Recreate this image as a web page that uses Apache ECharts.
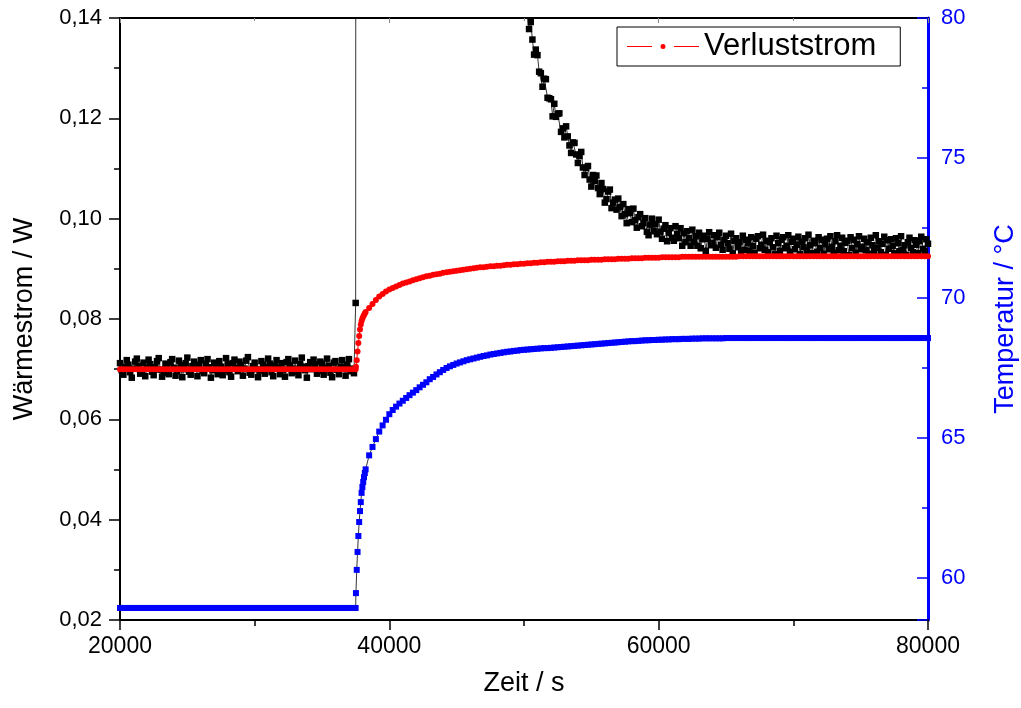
<!DOCTYPE html>
<html>
<head>
<meta charset="utf-8">
<script src="https://cdn.jsdelivr.net/npm/echarts@6/dist/echarts.min.js"></script>
<style>
html,body{margin:0;padding:0;background:#fff;overflow:hidden;}
#chart{width:1021px;height:708px;}
</style>
</head>
<body>
<div id="chart"></div>
<script>
// ---------- DATA ----------
const X_TICKS = [20000, 40000, 60000, 80000];
const Y_LEFT_TICKS = [0.02, 0.04, 0.06, 0.08, 0.10, 0.12, 0.14];
const Y_RIGHT_TICKS = [60, 65, 70, 75, 80];

// Wärmestrom (black) part 1: t = 20000 + 125*i (last value = spike at 37500)
const waermeBefore = [
  0.0712,0.0698,0.0689,0.0705,0.0718,0.0709,0.0694,0.0683,0.0701,0.0715,
  0.0721,0.0707,0.0691,0.0697,0.0713,0.0686,0.0702,0.0719,0.0710,0.0695,
  0.0688,0.0704,0.0716,0.0722,0.0699,0.0685,0.0693,0.0711,0.0706,0.0690,
  0.0714,0.0720,0.0703,0.0687,0.0696,0.0717,0.0708,0.0684,0.0700,0.0712,
  0.0723,0.0695,0.0689,0.0706,0.0715,0.0701,0.0686,0.0709,0.0718,0.0697,
  0.0692,0.0711,0.0720,0.0704,0.0683,0.0698,0.0713,0.0707,0.0690,0.0716,
  0.0705,0.0688,0.0699,0.0722,0.0710,0.0694,0.0685,0.0712,0.0719,0.0702,
  0.0696,0.0715,0.0708,0.0687,0.0701,0.0717,0.0724,0.0693,0.0689,0.0706,
  0.0713,0.0700,0.0684,0.0697,0.0716,0.0709,0.0691,0.0704,0.0721,0.0711,
  0.0694,0.0686,0.0707,0.0718,0.0703,0.0690,0.0712,0.0699,0.0685,0.0714,
  0.0720,0.0708,0.0692,0.0701,0.0717,0.0695,0.0688,0.0710,0.0723,0.0705,
  0.0698,0.0683,0.0706,0.0714,0.0700,0.0719,0.0709,0.0691,0.0697,0.0715,
  0.0711,0.0689,0.0702,0.0721,0.0707,0.0693,0.0684,0.0713,0.0716,0.0699,
  0.0690,0.0705,0.0718,0.0703,0.0687,0.0709,0.0720,0.0696,0.0701,0.0692,
  0.0832
];
// part 2: off the top of the chart after the heater step
const waermeHighTimes = [37625,38000,39000,40000,41000,42000,43000,44000,45000,46000,47000,48000,49000,50000,50125];
const waermeHigh      = [1.296,1.18,0.93,0.74,0.595,0.48,0.393,0.324,0.272,0.231,0.200,0.176,0.157,0.143,0.1415];
// part 3: t = 50250 + 125*k
const waermeAfter = [
  0.1410,0.1378,0.1392,0.1357,0.1327,0.1337,0.1326,0.1293,0.1290,0.1263,
  0.1279,0.1278,0.1241,0.1240,0.1238,0.1204,0.1229,0.1203,0.1209,0.1210,
  0.1173,0.1180,0.1162,0.1184,0.1164,0.1146,0.1131,0.1152,0.1151,0.1128,
  0.1111,0.1125,0.1133,0.1102,0.1087,0.1101,0.1105,0.1078,0.1064,0.1087,
  0.1075,0.1086,0.1061,0.1049,0.1071,0.1059,0.1032,0.1039,0.1054,0.1058,
  0.1021,0.1032,0.1038,0.1018,0.1040,0.1023,0.1005,0.1029,0.1009,0.0991,
  0.1019,0.1011,0.0993,0.1020,0.0997,0.0982,0.1003,0.1009,0.0985,0.0991,
  0.1001,0.0974,0.0967,0.0988,0.1000,0.0975,0.0989,0.0969,0.0998,0.0974,
  0.0960,0.0980,0.0987,0.0955,0.0972,0.0981,0.0962,0.0956,0.0985,0.0969,
  0.0961,0.0981,0.0946,0.0971,0.0953,0.0975,0.0961,0.0946,0.0978,0.0954,
  0.0965,0.0946,0.0972,0.0941,0.0959,0.0966,0.0936,0.0960,0.0973,0.0947,
  0.0952,0.0967,0.0942,0.0963,0.0972,0.0948,0.0938,0.0958,0.0966,0.0951,
  0.0940,0.0970,0.0931,0.0956,0.0961,0.0943,0.0953,0.0933,0.0966,0.0938,
  0.0958,0.0951,0.0936,0.0963,0.0946,0.0932,0.0960,0.0965,0.0941,0.0948,
  0.0968,0.0938,0.0956,0.0933,0.0953,0.0961,0.0943,0.0929,0.0966,0.0951,
  0.0936,0.0958,0.0963,0.0941,0.0946,0.0967,0.0934,0.0954,0.0960,0.0939,
  0.0948,0.0964,0.0929,0.0954,0.0943,0.0961,0.0936,0.0968,0.0947,0.0931,
  0.0956,0.0951,0.0934,0.0963,0.0941,0.0958,0.0930,0.0949,0.0960,0.0939,
  0.0965,0.0944,0.0932,0.0955,0.0967,0.0937,0.0946,0.0962,0.0935,0.0952,
  0.0956,0.0927,0.0963,0.0941,0.0958,0.0932,0.0949,0.0965,0.0939,0.0944,
  0.0960,0.0937,0.0953,0.0930,0.0962,0.0947,0.0935,0.0967,0.0942,0.0955,
  0.0933,0.0950,0.0964,0.0928,0.0957,0.0940,0.0959,0.0946,0.0931,0.0961,
  0.0951,0.0935,0.0965,0.0937,0.0947,0.0928,0.0953,0.0962,0.0942,0.0933,
  0.0957,0.0948,0.0931,0.0955,0.0964,0.0940,0.0936,0.0959,0.0950
];

// Verluststrom / Temperatur times: every 250 s before, fine during the jump, every 250 s after
const TEMP_STEP = 250;
const jumpTimes = [37520,37580,37640,37700,37760,37820,37880,37940,38000,38060,38120,38180,38240];

const verluststrom = [
  // 20000 .. 37500
  0.0700,0.0700,0.0700,0.0700,0.0700,0.0700,0.0700,0.0700,0.0700,0.0700,
  0.0700,0.0700,0.0700,0.0700,0.0700,0.0700,0.0700,0.0700,0.0700,0.0700,
  0.0700,0.0700,0.0700,0.0700,0.0700,0.0700,0.0700,0.0700,0.0700,0.0700,
  0.0700,0.0700,0.0700,0.0700,0.0700,0.0700,0.0700,0.0700,0.0700,0.0700,
  0.0700,0.0700,0.0700,0.0700,0.0700,0.0700,0.0700,0.0700,0.0700,0.0700,
  0.0700,0.0700,0.0700,0.0700,0.0700,0.0700,0.0700,0.0700,0.0700,0.0700,
  0.0700,0.0700,0.0700,0.0700,0.0700,0.0700,0.0700,0.0700,0.0700,0.0700,
  0.0700,
  // jump
  0.0705,0.0718,0.0735,0.0752,0.0766,0.0779,0.0789,0.0796,0.0801,0.0805,0.0808,0.0811,0.0814,
  // 38500 .. 80000
  0.0822,0.0830,0.0838,0.0845,0.0850,0.0855,0.0859,0.0862,0.0865,0.0868,
  0.0871,0.0873,0.0875,0.0877,0.0879,0.0881,0.0883,0.0885,0.0886,0.0888,
  0.0889,0.0890,0.0892,0.0893,0.0894,0.0895,0.0896,0.0897,0.0898,0.0899,
  0.0900,0.0901,0.0902,0.0903,0.0903,0.0904,0.0905,0.0905,0.0906,0.0906,
  0.0907,0.0908,0.0908,0.0909,0.0909,0.0910,0.0910,0.0911,0.0911,0.0912,
  0.0912,0.0913,0.0913,0.0914,0.0914,0.0914,0.0915,0.0915,0.0915,0.0916,
  0.0916,0.0916,0.0917,0.0917,0.0917,0.0917,0.0918,0.0918,0.0918,0.0918,
  0.0919,0.0919,0.0919,0.0919,0.0920,0.0920,0.0920,0.0920,0.0921,0.0921,
  0.0921,0.0921,0.0922,0.0922,0.0922,0.0922,0.0922,0.0923,0.0923,0.0923,
  0.0923,0.0923,0.0923,0.0924,0.0924,0.0924,0.0924,0.0924,0.0924,0.0924,
  0.0924,0.0924,0.0924,0.0924,0.0924,0.0924,0.0924,0.0924,0.0924,0.0924,
  0.0925,0.0925,0.0925,0.0925,0.0925,0.0925,0.0925,0.0925,0.0925,0.0925,
  0.0925,0.0925,0.0925,0.0925,0.0925,0.0925,0.0925,0.0925,0.0925,0.0925,
  0.0925,0.0925,0.0925,0.0925,0.0925,0.0925,0.0925,0.0925,0.0925,0.0925,
  0.0925,0.0925,0.0925,0.0925,0.0925,0.0925,0.0925,0.0925,0.0925,0.0925,
  0.0925,0.0925,0.0925,0.0925,0.0925,0.0925,0.0925,0.0925,0.0925,0.0925,
  0.0925,0.0925,0.0925,0.0925,0.0925,0.0925,0.0925
];

const temperatur = [
  // 20000 .. 37500
  58.93,58.93,58.93,58.93,58.93,58.93,58.93,58.93,58.93,58.93,
  58.93,58.93,58.93,58.93,58.93,58.93,58.93,58.93,58.93,58.93,
  58.93,58.93,58.93,58.93,58.93,58.93,58.93,58.93,58.93,58.93,
  58.93,58.93,58.93,58.93,58.93,58.93,58.93,58.93,58.93,58.93,
  58.93,58.93,58.93,58.93,58.93,58.93,58.93,58.93,58.93,58.93,
  58.93,58.93,58.93,58.93,58.93,58.93,58.93,58.93,58.93,58.93,
  58.93,58.93,58.93,58.93,58.93,58.93,58.93,58.93,58.93,58.93,
  58.93,
  // jump
  59.46,60.29,60.93,61.50,62.00,62.39,62.71,63.04,63.25,63.43,63.60,63.75,63.88,
  // 38500 .. 80000
  64.38,64.68,64.96,65.23,65.45,65.65,65.85,66.00,66.12,66.23,
  66.33,66.43,66.53,66.62,66.71,66.81,66.90,66.99,67.10,67.18,
  67.27,67.35,67.43,67.50,67.56,67.61,67.66,67.70,67.74,67.78,
  67.81,67.84,67.87,67.90,67.93,67.95,67.98,68.00,68.02,68.04,
  68.06,68.08,68.09,68.11,68.12,68.14,68.15,68.16,68.17,68.18,
  68.19,68.20,68.21,68.21,68.22,68.23,68.24,68.25,68.26,68.27,
  68.28,68.29,68.30,68.31,68.32,68.33,68.34,68.35,68.36,68.37,
  68.38,68.39,68.40,68.41,68.42,68.43,68.44,68.45,68.46,68.46,
  68.47,68.48,68.49,68.49,68.50,68.50,68.51,68.51,68.52,68.52,
  68.53,68.53,68.53,68.54,68.54,68.54,68.55,68.55,68.55,68.56,
  68.56,68.56,68.56,68.56,68.56,68.56,68.57,68.57,68.57,68.57,
  68.57,68.57,68.57,68.57,68.57,68.57,68.57,68.57,68.57,68.57,
  68.57,68.57,68.57,68.57,68.57,68.57,68.57,68.57,68.57,68.57,
  68.57,68.57,68.57,68.57,68.57,68.57,68.57,68.57,68.57,68.57,
  68.57,68.57,68.57,68.57,68.57,68.57,68.57,68.57,68.57,68.57,
  68.57,68.57,68.57,68.57,68.57,68.57,68.57,68.57,68.57,68.57,
  68.57,68.57,68.57,68.57,68.57,68.57,68.57
];

// ---------- BUILD ----------
function grid(start, n, step) { return Array.from({length: n}, (_, i) => start + i * step); }
const blackTimes = [
  ...grid(20000, waermeBefore.length, 125),
  ...waermeHighTimes,
  ...grid(50250, waermeAfter.length, 125)
];
const blackVals = [...waermeBefore, ...waermeHigh, ...waermeAfter];
const tempTimes = [...grid(20000, 71, TEMP_STEP), ...jumpTimes, ...grid(38500, 167, TEMP_STEP)];

const blackData = blackVals.map((v, i) => [blackTimes[i], v]);
const redData = verluststrom.map((v, i) => [tempTimes[i], v]);
const blueData = temperatur.map((v, i) => [tempTimes[i], v]);

const FONT = '"Liberation Sans", Arial, Helvetica, sans-serif';
const BLUE = '#0000ff';
const RED = '#ff0000';
// legend icon: line – dot – line
const LEGEND_ICON = 'path://M0,3.5L25,3.5L25,4.5L0,4.5Z M33.5,4A2.5,2.5 0 1,1 38.5,4A2.5,2.5 0 1,1 33.5,4Z M47,3.5L72,3.5L72,4.5L47,4.5Z M0,0L0.01,0L0.01,0.01Z M0,8L0.01,8L0.01,7.99Z';

function lineSeries(name, data, yIdx, color, z, extra) {
  return Object.assign({
    name, type: 'line', xAxisIndex: 0, yAxisIndex: yIdx, data, clip: true,
    showSymbol: false, symbol: 'none',
    lineStyle: {color, width: 0.8}, itemStyle: {color},
    z, silent: true
  }, extra || {});
}
function pointSeries(name, data, yIdx, color, symbol, size, z) {
  return {
    name, type: 'scatter', xAxisIndex: 0, yAxisIndex: yIdx, data, clip: true,
    symbol, symbolSize: size, itemStyle: {color, opacity: 1},
    z, silent: true, large: false, progressive: 0
  };
}

const chart = echarts.init(document.getElementById('chart'), null, {renderer: 'canvas', width: 1021, height: 708});
chart.setOption({
  animation: false,
  backgroundColor: '#fff',
  textStyle: {fontFamily: FONT},
  grid: {left: 120, right: 93, top: 18, bottom: 88, containLabel: false, outerBoundsMode: 'none'},
  legend: {
    data: [{name: 'Verluststrom', icon: LEGEND_ICON}],
    left: 617, top: 27,
    borderColor: '#000', borderWidth: 1,
    padding: [4, 24, 4, 10],
    itemWidth: 72, itemHeight: 8,
    textStyle: {fontSize: 31, color: '#000', fontFamily: FONT},
    selectedMode: false
  },
  xAxis: [{
    type: 'value', min: X_TICKS[0], max: X_TICKS[X_TICKS.length - 1], interval: X_TICKS[1] - X_TICKS[0],
    name: 'Zeit / s', nameLocation: 'middle', nameGap: 50,
    nameTextStyle: {fontSize: 27, color: '#000', fontFamily: FONT},
    axisLine: {show: true, onZero: false, lineStyle: {color: '#000', width: 2}},
    axisTick: {show: true, inside: false, length: 10, lineStyle: {color: '#000', width: 1.5}},
    minorTick: {show: true, splitNumber: 2, length: 6, lineStyle: {color: '#000', width: 1.5}},
    axisLabel: {fontSize: 23, color: '#000', margin: 15, fontFamily: FONT, formatter: v => String(v)},
    splitLine: {show: false}
  }, {
    type: 'value', position: 'top', min: X_TICKS[0], max: X_TICKS[X_TICKS.length - 1], interval: X_TICKS[1] - X_TICKS[0],
    axisLine: {show: true, onZero: false, lineStyle: {color: '#000', width: 2}},
    axisTick: {show: true, inside: true, length: 5, lineStyle: {color: '#888', width: 1}},
    minorTick: {show: true, splitNumber: 2, length: 3, lineStyle: {color: '#888', width: 1}},
    axisLabel: {show: false},
    splitLine: {show: false}
  }],
  yAxis: [{
    type: 'value', min: Y_LEFT_TICKS[0], max: Y_LEFT_TICKS[Y_LEFT_TICKS.length - 1], interval: 0.02,
    position: 'left',
    name: 'Wärmestrom / W', nameLocation: 'middle', nameGap: 82, nameRotate: 90,
    nameTextStyle: {fontSize: 27, color: '#000', fontFamily: FONT},
    axisLine: {show: true, onZero: false, lineStyle: {color: '#000', width: 2}},
    axisTick: {show: true, inside: false, length: 11, lineStyle: {color: '#000', width: 1.5}},
    minorTick: {show: true, splitNumber: 2, length: 6, lineStyle: {color: '#000', width: 1.5}},
    axisLabel: {fontSize: 22, color: '#000', margin: 18, fontFamily: FONT,
      formatter: v => v.toFixed(2).replace('.', ',')},
    splitLine: {show: false}
  }, {
    type: 'value', min: 58.5, max: Y_RIGHT_TICKS[Y_RIGHT_TICKS.length - 1], splitNumber: 4,
    position: 'right',
    name: 'Temperatur / °C', nameLocation: 'middle', nameGap: 64, nameRotate: 90,
    nameTextStyle: {fontSize: 27, color: BLUE, fontFamily: FONT},
    axisLine: {show: true, onZero: false, lineStyle: {color: BLUE, width: 3}},
    axisTick: {show: true, inside: true, length: 11, lineStyle: {color: BLUE, width: 1.5}},
    minorTick: {show: true, splitNumber: 2, length: 6, lineStyle: {color: BLUE, width: 1.5}},
    axisLabel: {fontSize: 22, color: BLUE, margin: 13, fontFamily: FONT,
      formatter: v => (Y_RIGHT_TICKS.indexOf(Math.round(v * 100) / 100) >= 0 ? String(v) : '')},
    splitLine: {show: false}
  }],
  series: [
    lineSeries('Wärmestrom', blackData, 0, '#000', 2),
    pointSeries('Wärmestrom Punkte', blackData, 0, '#000', 'rect', 6.5, 2),
    lineSeries('Verluststrom', redData, 0, RED, 3, {lineStyle: {color: RED, width: 1}}),
    pointSeries('Verluststrom Punkte', redData, 0, RED, 'circle', 6, 3),
    lineSeries('Temperatur', blueData, 1, '#000', 4),
    pointSeries('Temperatur Punkte', blueData, 1, BLUE, 'rect', 6, 4)
  ]
});
</script>
</body>
</html>
